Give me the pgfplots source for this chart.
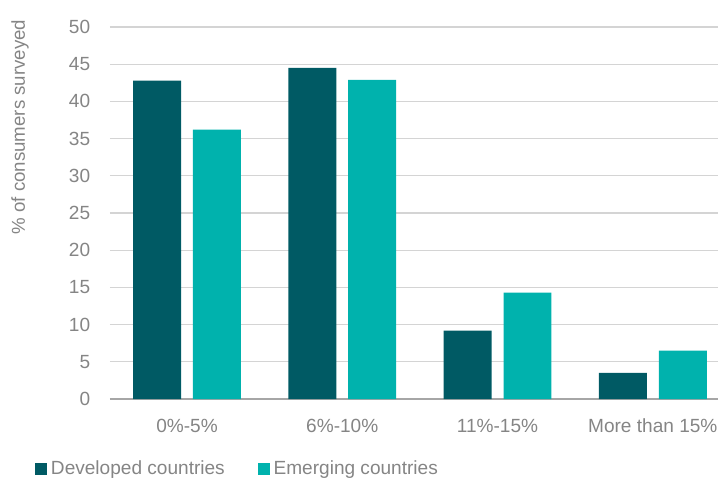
\documentclass[border=0pt]{standalone}
\usepackage{pgfplots}
\pgfplotsset{compat=1.18}
\usepackage{fontspec}
\setmainfont{Liberation Sans}
\definecolor{devcol}{HTML}{005A64}
\definecolor{emcol}{HTML}{00B2AD}
\definecolor{txtgray}{HTML}{858585}
\definecolor{gridgray}{HTML}{D4D4D4}
\definecolor{axgray}{HTML}{A6A6A6}
\begin{document}
\fontsize{14pt}{17pt}\selectfont
\begin{tikzpicture}
\begin{axis}[
  at={(0,0)}, anchor=south west,
  scale only axis,
  width=456pt, height=279pt,
  xmin=-0.496, xmax=3.42,
  ymin=0, ymax=50,
  ytick={0,5,...,50},
  xtick={0,1,2,3},
  xticklabels={0\%-5\%,6\%-10\%,11\%-15\%,More than 15\%},
  /pgf/number format/assume math mode=true,
  ymajorgrids,
  grid style={gridgray, line width=0.9pt},
  major tick length=0pt,
  axis x line*=bottom, axis y line*=left,
  y axis line style={draw=none},
  x axis line style={axgray, line width=1.2pt, -},
  tick label style={font=\fontsize{14.3pt}{17pt}\selectfont, text=txtgray},
  yticklabel style={xshift=-10pt},
  xticklabel style={yshift=-10pt},
  ylabel={\% of consumers surveyed},
  ylabel style={at={(axis description cs:-0.148,0.731)}, anchor=center, font=\fontsize{14pt}{17pt}\selectfont, text=txtgray},
  ybar, bar width=0.309,
  legend columns=2,
  legend style={at={(axis description cs:0,0)}, anchor=west, xshift=-56.25pt, yshift=-52.5pt, draw=none, fill=none, inner sep=0pt,
    font=\fontsize{14.3pt}{17pt}\selectfont, text=txtgray, nodes={inner sep=2.8pt}},
  legend image code/.code={\fill[#1] (0pt,-4.5pt) rectangle (9pt,4.5pt);},
]
\addplot[fill=devcol, draw=none, bar shift=-0.193] coordinates {(0,42.8) (1,44.5) (2,9.2) (3,3.5)};
\addlegendentry{Developed countries\rule{22pt}{0pt}}
\addplot[fill=emcol, draw=none, bar shift=0.193] coordinates {(0,36.2) (1,42.9) (2,14.3) (3,6.5)};
\addlegendentry{Emerging countries}
\end{axis}
\pgfresetboundingbox
\path[use as bounding box] (-82.5pt,-60pt) rectangle (456pt,299.25pt);
\end{tikzpicture}
\end{document}
